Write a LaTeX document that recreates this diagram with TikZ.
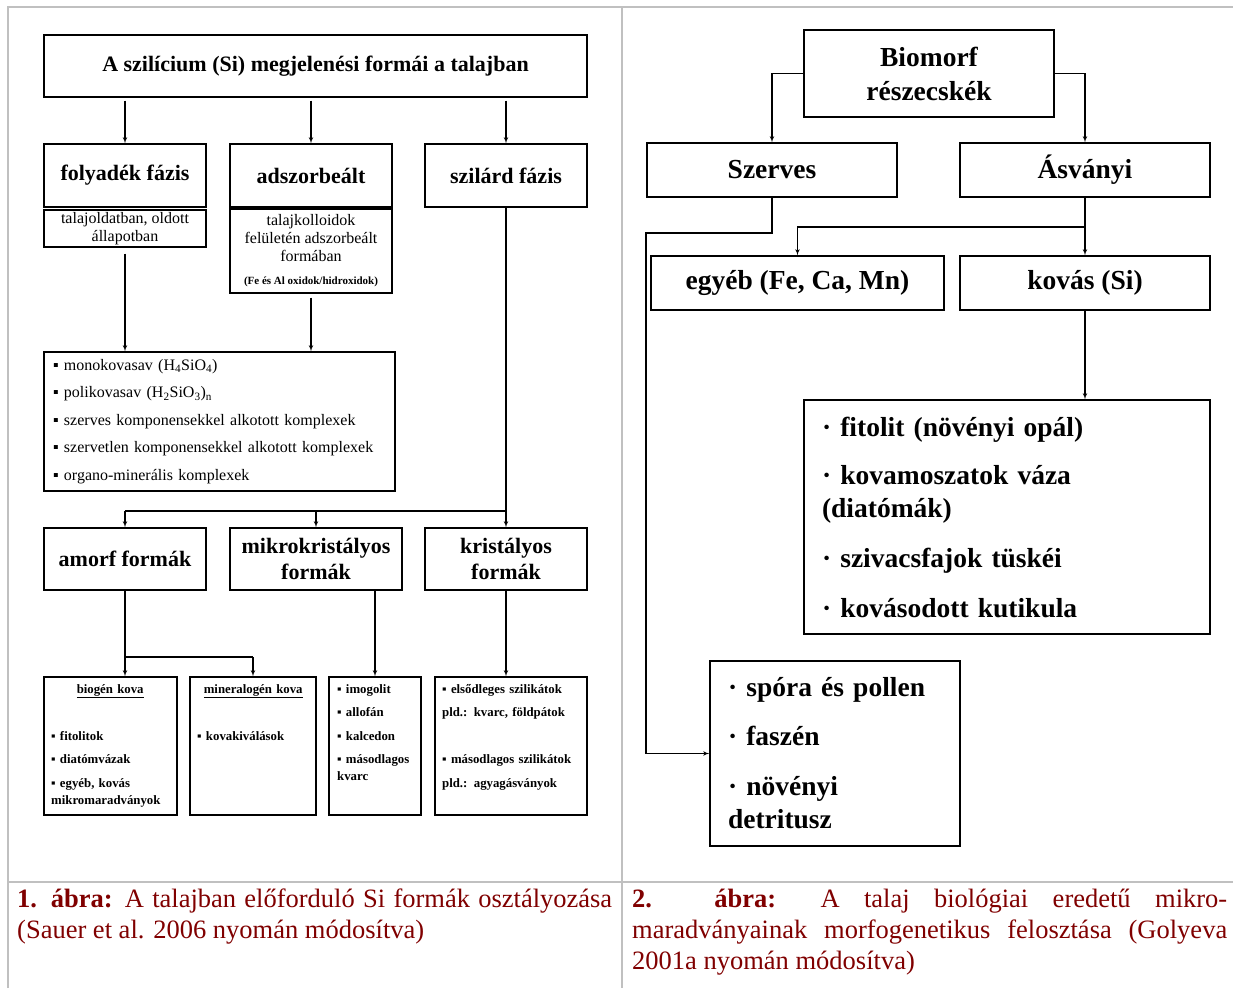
\documentclass[tikz,border=0pt]{standalone}
\usepackage{fontspec}
\setmainfont{Liberation Serif}
\usepackage{xcolor}
\usepackage{tikz}
\usetikzlibrary{shapes, arrows}
\definecolor{abrapiros}{RGB}{128,0,0}
\definecolor{keretszurke}{RGB}{192,192,192}
\tikzstyle{nagydoboz} = [rectangle, draw, line width=1.3pt, text centered, align=center, inner sep=0pt, font=\fontsize{22}{26}\selectfont\bfseries]
\tikzstyle{aldoboz} = [rectangle, draw, line width=1.3pt, text centered, align=center, inner sep=0pt, font=\fontsize{16}{18}\selectfont]
\tikzstyle{listadoboz} = [rectangle, draw, line width=1.3pt, inner sep=0pt]
\tikzstyle{kisszoveg} = [align=left, inner sep=0pt, anchor=north west, font=\fontsize{12.8}{17}\selectfont\bfseries]
\tikzstyle{jobbdoboz} = [rectangle, draw, line width=1.3pt, text centered, align=center, inner sep=0pt, font=\fontsize{27.5}{34}\selectfont\bfseries]
\tikzstyle{felirat} = [align=justify, inner sep=0pt, anchor=north west, text width=595pt, text=abrapiros, font=\fontsize{26.5}{31}\selectfont]
\tikzstyle{connector} = [draw, line width=1.1pt, -latex']
\tikzstyle{vonal} = [draw, line width=1.1pt]
\tikzstyle{keret} = [draw=keretszurke, line width=2pt]

\begin{document}
\begin{tikzpicture}[x=1pt, y=-1pt]
        \useasboundingbox (0,0) rectangle (1233,988);
        \path [keret] (8,988) -- (8,7) -- (1233,7);
        \path [keret] (622,7) -- (622,988);
        \path [keret] (8,882) -- (1233,882);

        \node [nagydoboz, minimum width=543pt, minimum height=62pt] at (315.5,66) (cim)
        {A szilícium (Si) megjelenési formái a talajban};

        \node [nagydoboz, minimum width=162pt, minimum height=63pt] at (125,175.5) (folyadek) {folyadék fázis};
        \node [nagydoboz, minimum width=162pt, minimum height=63pt] at (311,175.5) (adszorb) {adszorbeált};
        \node [nagydoboz, minimum width=162pt, minimum height=63pt] at (506,175.5) (szilard) {szilárd fázis};

        \node [aldoboz, minimum width=162pt, minimum height=37pt] at (125,228.5) (oldott)
        {talajoldatban, oldott\\állapotban};
        \node [aldoboz, minimum width=162pt, minimum height=84pt] at (311,251) (kolloid)
        {talajkolloidok\\felületén adszorbeált\\formában\\[5pt]{\fontsize{11}{13}\selectfont\bfseries (Fe és Al oxidok/hidroxidok)}};

        \node [listadoboz, minimum width=351pt, minimum height=139pt, text width=333pt, align=left, font=\fontsize{16}{19}\selectfont] at (219.5,421.5) (lista)
        {▪ monokovasav (H\textsubscript{4}SiO\textsubscript{4})\\[8.5pt]
         ▪ polikovasav (H\textsubscript{2}SiO\textsubscript{3})\textsubscript{n}\\[8.5pt]
         ▪ szerves komponensekkel alkotott komplexek\\[8.5pt]
         ▪ szervetlen komponensekkel alkotott komplexek\\[8.5pt]
         ▪ organo-minerális komplexek};

        \node [nagydoboz, minimum width=162pt, minimum height=62pt] at (125,559) (amorf) {amorf formák};
        \node [nagydoboz, minimum width=172pt, minimum height=62pt] at (316,559) (mikro) {mikrokristályos\\formák};
        \node [nagydoboz, minimum width=162pt, minimum height=62pt] at (506,559) (krist) {kristályos\\formák};

        \node [listadoboz, minimum width=133pt, minimum height=138pt] at (110.5,746) (biogen) {};
        \node [listadoboz, minimum width=126pt, minimum height=138pt] at (253,746) (mineral) {};
        \node [listadoboz, minimum width=92pt, minimum height=138pt] at (375,746) (imogolit) {};
        \node [listadoboz, minimum width=152pt, minimum height=138pt] at (511,746) (elsodl) {};

        \node [kisszoveg, text width=118pt] at (51,684) (biogenT)
        {\makebox[118pt]{\underline{biogén kova}}\\[30pt]
         ▪ fitolitok\\[6.5pt] ▪ diatómvázak\\[6.5pt] ▪ egyéb, kovás\\mikromaradványok};
        \node [kisszoveg, text width=112pt] at (197,684) (mineralT)
        {\makebox[112pt]{\underline{mineralogén kova}}\\[30pt] ▪ kovakiválások};
        \node [kisszoveg, text width=82pt] at (337,684) (imogolitT)
        {▪ imogolit\\[6.5pt] ▪ allofán\\[6.5pt] ▪ kalcedon\\[6.5pt] ▪ másodlagos\\kvarc};
        \node [kisszoveg, text width=142pt] at (442,684) (elsodlT)
        {▪ elsődleges szilikátok\\[6pt] pld.: kvarc, földpátok\\[30pt] ▪ másodlagos szilikátok\\[7pt] pld.: agyagásványok};

        \path [connector, shorten <=3pt] (cim.south -| folyadek.north) -- (folyadek.north);
        \path [connector, shorten <=3pt] (cim.south -| adszorb.north) -- (adszorb.north);
        \path [connector, shorten <=3pt] (cim.south -| szilard.north) -- (szilard.north);
        \path [connector, shorten <=6pt] (oldott.south) -- (oldott.south |- lista.north);
        \path [connector, shorten <=4pt] (kolloid.south) -- (kolloid.south |- lista.north);

        \coordinate (elagazas) at (506,511);
        \path [connector] (szilard.south) -- (krist.north);
        \path [vonal] (elagazas) -- (elagazas -| amorf.north);
        \path [connector] (elagazas -| amorf.north) -- (amorf.north);
        \path [connector] (elagazas -| mikro.north) -- (mikro.north);

        \coordinate (amorfag) at (253,657);
        \path [connector] (amorf.south) -- (amorf.south |- biogen.north);
        \path [vonal] (amorf.south |- amorfag) -- (amorfag);
        \path [connector] (amorfag) -- (mineral.north);
        \path [connector] (mikro.south -| imogolit.north) -- (imogolit.north);
        \path [connector] (krist.south) -- (krist.south |- elsodl.north);

        \node [jobbdoboz, minimum width=250pt, minimum height=87pt] at (929,73.5) (biomorf) {Biomorf\\részecskék};
        \node [jobbdoboz, minimum width=250pt, minimum height=54pt] at (772,170) (szerves) {Szerves};
        \node [jobbdoboz, minimum width=250pt, minimum height=54pt] at (1085,170) (asvanyi) {Ásványi};
        \node [jobbdoboz, minimum width=293pt, minimum height=54pt] at (797.5,283) (egyeb) {egyéb (Fe, Ca, Mn)};
        \node [jobbdoboz, minimum width=250pt, minimum height=54pt] at (1085,283) (kovas) {kovás (Si)};

        \node [jobbdoboz, minimum width=406pt, minimum height=234pt, text width=370pt, align=left, font=\fontsize{27.5}{33}\selectfont\bfseries] at (1007,517) (kovaslista)
        {· fitolit (növényi opál)\\[15pt]
         · kovamoszatok váza\\(diatómák)\\[17pt]
         · szivacsfajok tüskéi\\[17pt]
         · kovásodott kutikula};
        \node [jobbdoboz, minimum width=250pt, minimum height=185pt, text width=214pt, align=left, font=\fontsize{27.5}{33}\selectfont\bfseries] at (835,753.5) (spora)
        {· spóra és pollen\\[16pt]
         · faszén\\[17pt]
         · növényi\\detritusz};

        \coordinate (asvag) at (1085,227);
        \coordinate (szkanyar) at (646,233);
        \path [connector] (biomorf.west) -| (szerves.north);
        \path [connector] (biomorf.east) -| (asvanyi.north);
        \path [connector] (asvanyi.south) -- (kovas.north);
        \path [connector] (asvag) -| (egyeb.north);
        \path [connector] (kovas.south) -- (kovas.south |- kovaslista.north);
        \path [connector] (szerves.south) |- (szkanyar) |- (spora.west);

        \node [felirat] at (17,889) (abra1)
        {\textbf{1. ábra:} A talajban előforduló Si formák osztályozása (Sauer et al. 2006 nyomán módosítva)};
        \node [felirat] at (632,889) (abra2)
        {\textbf{2. ábra:} A talaj biológiai eredetű mikro-\linebreak maradványainak morfogenetikus felosztása (Golyeva\linebreak 2001a nyomán módosítva)};
    \end{tikzpicture}
\end{document}
